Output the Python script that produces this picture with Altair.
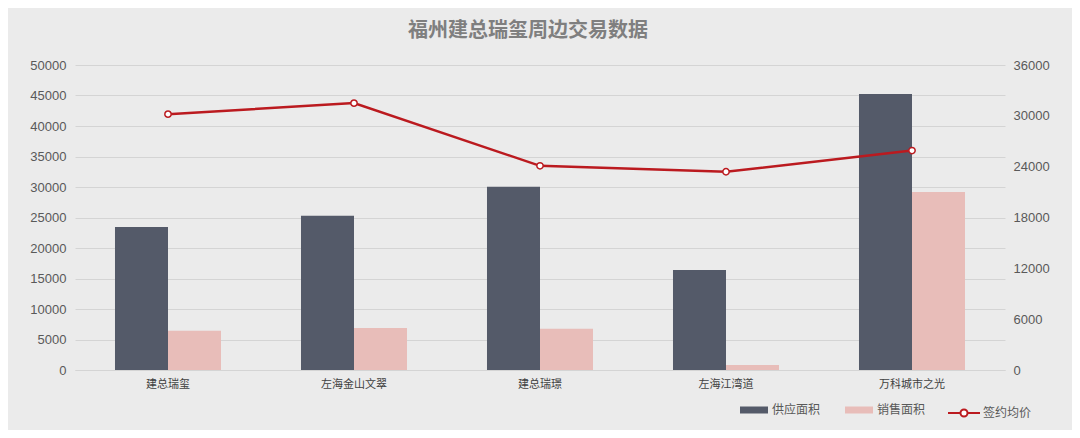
import altair as alt
import pandas as pd

categories = ["建总瑞玺", "左海金山文翠", "建总瑞璟", "左海江湾道", "万科城市之光"]
supply = [23450, 25300, 30050, 16400, 45250]
sales = [6450, 6900, 6750, 800, 29200]
price = [30200, 31500, 24100, 23400, 25900]
bar_series = ["供应面积", "销售面积"]
line_series = ["签约均价"]
left_ticks = [0, 5000, 10000, 15000, 20000, 25000, 30000, 35000, 40000, 45000, 50000]
right_ticks = [0, 6000, 12000, 18000, 24000, 30000, 36000]

bar_colors = ["#545a69", "#e8bdb9"]
line_color = "#bb1a1f"
CJK = "Noto Sans CJK SC"
NUM = "Liberation Sans"

bar_df = pd.DataFrame({
    "项目": categories * 2,
    "系列": [bar_series[0]] * len(categories) + [bar_series[1]] * len(categories),
    "面积": supply + sales,
})
line_df = pd.DataFrame({
    "项目": categories,
    "系列": line_series * len(categories),
    "均价": price,
})

x_enc = alt.X(
    "项目:N",
    sort=categories,
    scale=alt.Scale(paddingInner=0.43, paddingOuter=0.215),
    axis=alt.Axis(
        title=None, labelAngle=0, labelFont=CJK, labelFontSize=11,
        labelColor="#404040", ticks=False, domain=True, domainColor="#d4d4d4",
        labelPadding=8,
    ),
)

bars = alt.Chart(bar_df).mark_bar().encode(
    x=x_enc,
    xOffset=alt.XOffset("系列:N", sort=bar_series, scale=alt.Scale(paddingInner=0, paddingOuter=0)),
    y=alt.Y(
        "面积:Q",
        scale=alt.Scale(domain=[0, 50000], nice=False),
        axis=alt.Axis(
            title=None, values=left_ticks, format="d", grid=True, gridColor="#d4d4d4",
            domain=False, ticks=False, labelFont=NUM, labelFontSize=13,
            labelColor="#595959", labelPadding=9,
        ),
    ),
    color=alt.Color(
        "系列:N",
        scale=alt.Scale(domain=bar_series, range=bar_colors),
        legend=alt.Legend(
            title=None, orient="none", legendX=665, legendY=331,
            direction="horizontal",
            symbolType="M-1,-0.25H1V0.25H-1Z", symbolSize=784,
            symbolStrokeWidth=0,
            labelFont=CJK, labelFontSize=12, labelColor="#595959",
            labelOffset=4, columnPadding=24,
        ),
    ),
)

y_right = alt.Y(
    "均价:Q",
    scale=alt.Scale(domain=[0, 36000], nice=False),
    axis=alt.Axis(
        title=None, orient="right", values=right_ticks, format="d", grid=False,
        domain=False, ticks=False, labelFont=NUM, labelFontSize=13,
        labelColor="#595959", labelPadding=8,
    ),
)

line = alt.Chart(line_df).mark_line(strokeWidth=2.5).encode(
    x=alt.X("项目:N", sort=categories),
    y=y_right,
    stroke=alt.Stroke(
        "系列:N",
        scale=alt.Scale(domain=line_series, range=[line_color]),
        legend=alt.Legend(
            title=None, orient="none", legendX=872, legendY=331,
            symbolType="M-1,0H-0.22M0.22,0H1M-0.22,0A0.22,0.22,0,1,0,0.22,0A0.22,0.22,0,1,0,-0.22,0",
            symbolSize=1024, symbolStrokeWidth=2, symbolFillColor="#ffffff",
            labelFont=CJK, labelFontSize=12, labelColor="#595959",
            labelOffset=2,
        ),
    ),
)

points = alt.Chart(line_df).mark_point(
    shape="circle", size=40, fill="#ffffff", fillOpacity=1, strokeWidth=1.5, opacity=1
).encode(
    x=alt.X("项目:N", sort=categories),
    y=y_right,
    stroke=alt.value(line_color),
)

right_layer = alt.layer(line, points)

chart = alt.layer(bars, right_layer).resolve_scale(
    y="independent"
).properties(
    width=930,
    height=305,
    background="#ebebeb",
    autosize=alt.AutoSizeParams(type="none"),
    padding={"left": 67, "top": 57, "right": 67, "bottom": 60},
    title=alt.TitleParams(
        "福州建总瑞玺周边交易数据", font=CJK, fontSize=20, fontWeight="bold",
        color="#7f7f7f", anchor="middle", offset=18, dx=-12,
    ),
).configure_view(stroke=None)

chart.save("out.html", embed_options={"renderer": "svg", "actions": False})
